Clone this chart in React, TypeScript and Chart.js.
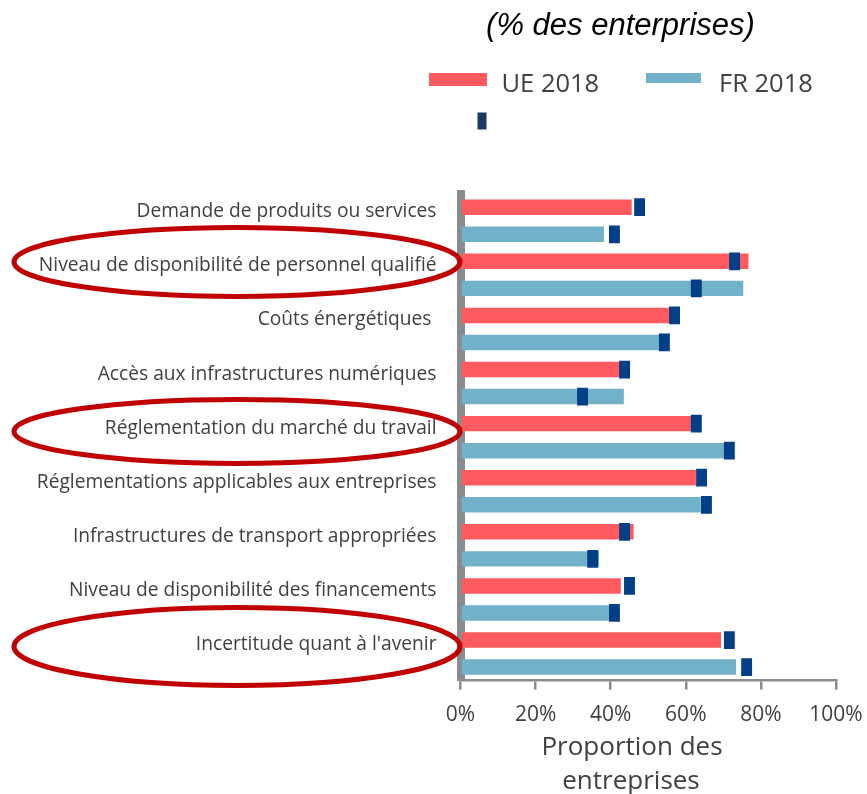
import React, { useEffect, useRef } from "react";
import { Chart, registerables } from "chart.js";

Chart.register(...registerables);

const categories = [
  "Demande de produits ou services",
  "Niveau de disponibilité de personnel qualifié",
  "Coûts énergétiques ",
  "Accès aux infrastructures numériques",
  "Réglementation du marché du travail",
  "Réglementations applicables aux entreprises",
  "Infrastructures de transport appropriées",
  "Niveau de disponibilité des financements",
  "Incertitude quant à l'avenir",
];
const ue2018 = [45.6, 76.7, 58.0, 44.9, 61.8, 62.7, 46.1, 42.7, 69.4];
const fr2018 = [38.2, 75.3, 54.0, 43.5, 70.2, 64.0, 36.9, 41.6, 73.4];
const ueMarker = [47.7, 73.0, 57.0, 43.7, 62.8, 64.2, 43.7, 45.0, 71.6];
const frMarker = [41.0, 62.8, 54.3, 32.5, 71.6, 65.5, 35.2, 41.0, 76.2];
const xTicks = [0, 20, 40, 60, 80, 100];
const legendLabels = ["UE 2018", "FR 2018"];
const titleText = "(% des enterprises)";
const axisTitleLines = ["Proportion des", "entreprises"];
const highlighted = [1, 4, 8];

const RED = "#FF5A5F";
const BLUE = "#71B1C9";
const NAVY = "#023F87";
const LEGEND_NAVY = "#1B3A63";
const GRAY = "#898C8F";
const TEXT = "#404040";
const ELLIPSE = "#C00000";
const MARKER_HALF = 1.45;
const FONT = "'Open Sans', 'Noto Sans', sans-serif";

const ellipseStyle = [
  { dy: -12.9, ry: 34.5 },
  { dy: -5.7, ry: 32 },
  { dy: -7.1, ry: 39 },
];

const overlay = {
  id: "overlay",
  afterDraw(chart: any) {
    const ctx = chart.ctx as CanvasRenderingContext2D;
    const ys = chart.scales.y;
    ctx.save();
    // title
    ctx.fillStyle = "#000";
    ctx.font = "italic 31px 'Liberation Sans', Arial, sans-serif";
    ctx.textAlign = "center";
    ctx.textBaseline = "alphabetic";
    ctx.fillText(titleText, 620.5, 35);

    // legend
    ctx.fillStyle = RED;
    ctx.fillRect(429, 73, 58, 13);
    ctx.fillStyle = BLUE;
    ctx.fillRect(646, 73, 55, 10);
    ctx.fillStyle = LEGEND_NAVY;
    ctx.fillRect(477.5, 112.5, 9, 17);
    ctx.fillStyle = TEXT;
    ctx.font = `25.5px ${FONT}`;
    ctx.textAlign = "left";
    ctx.fillText(legendLabels[0], 501.5, 91.5);
    ctx.fillText(legendLabels[1], 719, 91.5);

    // axis title
    ctx.font = `26px ${FONT}`;
    ctx.textAlign = "center";
    ctx.fillText(axisTitleLines[0], 632, 755);
    ctx.fillText(axisTitleLines[1], 631, 789);

    // ellipses
    ctx.strokeStyle = ELLIPSE;
    ctx.lineWidth = 5;
    highlighted.forEach((idx, i) => {
      const cy = ys.getPixelForValue(idx) + ellipseStyle[i].dy;
      ctx.beginPath();
      ctx.ellipse(237, cy, 223, ellipseStyle[i].ry, 0, 0, Math.PI * 2);
      ctx.stroke();
    });
    ctx.restore();
  },
};

export default function App() {
  const ref = useRef<HTMLCanvasElement | null>(null);
  useEffect(() => {
    if (!ref.current) return;
    const chart = new Chart(ref.current, {
      type: "bar",
      data: {
        labels: categories,
        datasets: [
          {
            label: "UE marker",
            data: ueMarker.map((v) => [v - MARKER_HALF, v + MARKER_HALF]) as any,
            backgroundColor: NAVY,
            stack: "ue",
            order: 0,
            barPercentage: 0.655,
            categoryPercentage: 1,
          },
          {
            label: "FR marker",
            data: frMarker.map((v) => [v - MARKER_HALF, v + MARKER_HALF]) as any,
            backgroundColor: NAVY,
            stack: "fr",
            order: 0,
            barPercentage: 0.655,
            categoryPercentage: 1,
          },
          {
            label: legendLabels[0],
            data: ue2018,
            backgroundColor: RED,
            stack: "ue",
            order: 1,
            barPercentage: 0.573,
            categoryPercentage: 1,
          },
          {
            label: legendLabels[1],
            data: fr2018,
            backgroundColor: BLUE,
            stack: "fr",
            order: 1,
            barPercentage: 0.573,
            categoryPercentage: 1,
          },
        ],
      },
      options: {
        indexAxis: "y",
        animation: false,
        responsive: true,
        maintainAspectRatio: false,
        layout: { padding: { top: 193.7, right: 31, left: 0, bottom: 0 } },
        plugins: {
          legend: { display: false },
          tooltip: { enabled: false },
        },
        scales: {
          x: {
            type: "linear",
            min: 0,
            max: 100,
            stacked: false,
            position: "bottom",
            afterBuildTicks: (s: any) => {
              s.ticks = xTicks.map((v) => ({ value: v }));
            },
            ticks: {
              callback: (v: any) => v + "%",
              font: { family: FONT, size: 21 },
              color: TEXT,
              padding: 13,
              maxRotation: 0,
            },
            grid: {
              display: true,
              drawOnChartArea: false,
              drawTicks: true,
              tickLength: 9,
              color: GRAY,
              lineWidth: 2.5,
            },
            border: { display: true, color: GRAY, width: 2.5 },
            afterFit: (s: any) => {
              s.height = 113.4;
              s.paddingLeft = 0;
              s.paddingRight = 0;
            },
          },
          y: {
            type: "category",
            offset: true,
            ticks: {
              font: { family: FONT, size: 19.2 },
              color: TEXT,
              padding: 24,
              labelOffset: -9,
              autoSkip: false,
            },
            grid: { display: true, drawOnChartArea: false, drawTicks: false },
            border: { display: true, color: GRAY, width: 8 },
            afterFit: (s: any) => {
              s.width = 460.5;
            },
          },
        },
      } as any,
      plugins: [overlay],
    });
    return () => chart.destroy();
  }, []);
  return (
    <div style={{ position: "absolute", left: 0, top: 0, width: 867, height: 794 }}>
      <canvas ref={ref} />
    </div>
  );
}
